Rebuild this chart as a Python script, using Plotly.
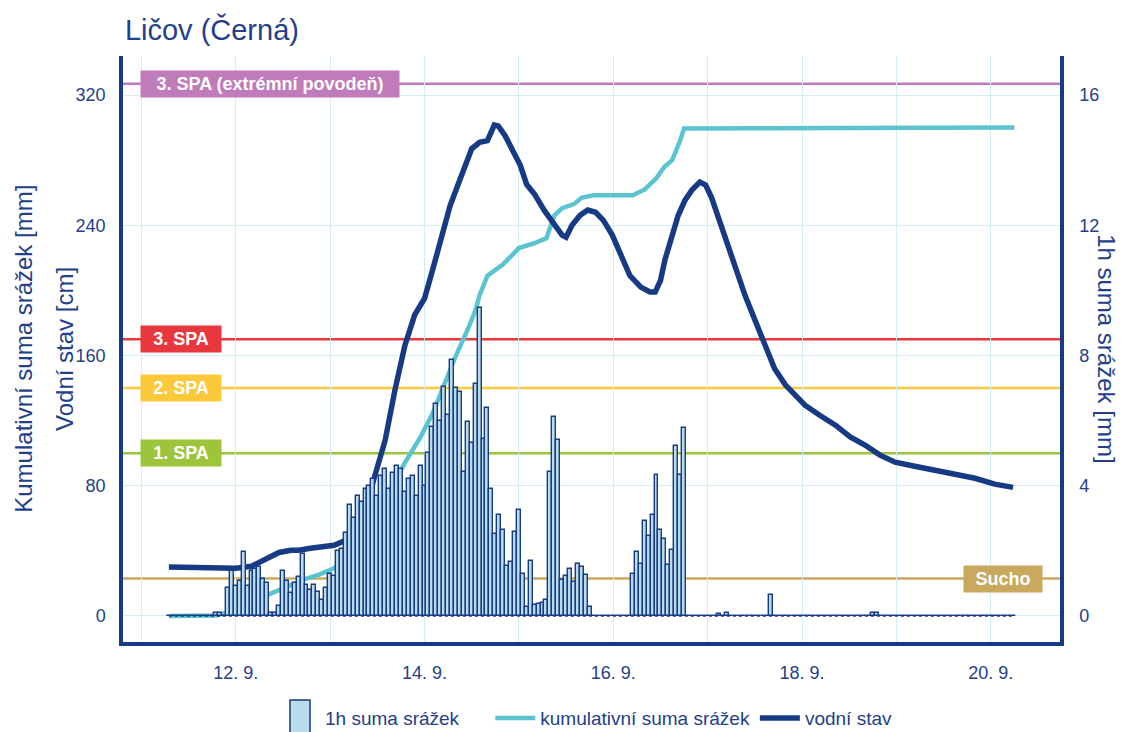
import pandas as pd
import plotly.graph_objects as go

# ---------------- data ----------------
start_1h = "2024-09-11 07:00"
srazky_1h = (
    [0] * 12
    + [0.1, 0.1, 0]
    + [0.87, 1.38, 0.92, 1.08, 1.95, 0.92, 1.38, 1.45, 1.5, 1.13, 1.0]
    + [0.1, 0.1, 0.31, 1.38, 1.08, 0.72, 1.0, 1.2, 1.9]
    + [0.95, 0.8, 0.95, 0.75, 0.5, 0.87, 1.28, 1.23, 2.0, 2.05, 2.56]
    + [3.4, 3.0, 3.7, 3.5, 3.9, 4.0, 4.2, 3.7, 4.3, 4.5, 3.9, 4.4, 4.6, 4.5, 3.8, 4.2, 4.3, 3.7, 4.6, 4.0]
    + [5.0, 5.8, 6.5, 6.0]
    + [7.04, 6.17, 7.86, 6.99, 6.88, 4.43, 5.96, 5.30, 7.12, 9.45, 5.45, 6.39]
    + [3.89, 2.53, 3.09, 2.63, 1.53, 1.66, 2.58, 3.25, 1.30, 0.28, 1.68, 0.33, 0.38, 0.4, 0.48]
    + [4.41, 6.12, 5.4, 1.10, 1.22, 1.43, 1.05, 1.59, 1.49, 1.25, 0.28]
    + [0] * 10
    + [1.28, 1.97, 1.61, 2.92, 2.45, 3.09, 4.32, 2.65, 2.35, 1.56, 2.04, 5.21, 4.32, 5.78]
    + [0] * 8
    + [0.05, 0, 0.1]
    + [0] * 10
    + [0.64]
    + [0] * 25
    + [0.1, 0.08]
    + [0] * 35
)

kum_cas = [
    "2024-09-11 07:00", "2024-09-11 19:00", "2024-09-11 22:00", "2024-09-12 01:00",
    "2024-09-12 04:00", "2024-09-12 08:00", "2024-09-12 11:00", "2024-09-12 15:00",
    "2024-09-12 18:00", "2024-09-12 21:00", "2024-09-13 01:00", "2024-09-13 04:00",
    "2024-09-13 08:00", "2024-09-13 11:00", "2024-09-13 15:00", "2024-09-13 19:00",
    "2024-09-13 23:00", "2024-09-14 02:00", "2024-09-14 05:00", "2024-09-14 08:00",
    "2024-09-14 11:00", "2024-09-14 13:00", "2024-09-14 14:00", "2024-09-14 16:00",
    "2024-09-14 20:00", "2024-09-15 00:00", "2024-09-15 04:00", "2024-09-15 07:00",
    "2024-09-15 09:00", "2024-09-15 11:00", "2024-09-15 14:00", "2024-09-15 16:00",
    "2024-09-15 19:00", "2024-09-16 05:00", "2024-09-16 08:00", "2024-09-16 11:00",
    "2024-09-16 13:00", "2024-09-16 15:00", "2024-09-16 17:00", "2024-09-16 18:00",
    "2024-09-20 06:00",
]
kum_srazky = [
    0, 0.3, 2.1, 5.8,
    9.0, 12.8, 15.8, 20.5,
    23.0, 25.3, 29.3, 35.5,
    47, 58, 76, 94,
    110, 124, 142, 160,
    176, 188, 197, 209,
    216, 226, 229, 232,
    246, 250.5, 253, 257,
    258.4, 258.4, 262, 269,
    276, 280, 292, 299.5,
    300,
]

stav_cas = [
    "2024-09-11 07:00", "2024-09-11 15:00", "2024-09-11 19:00", "2024-09-12 00:00",
    "2024-09-12 04:00", "2024-09-12 07:00", "2024-09-12 11:00", "2024-09-12 14:00",
    "2024-09-12 16:00", "2024-09-12 19:00", "2024-09-12 21:00", "2024-09-13 01:00",
    "2024-09-13 04:00", "2024-09-13 06:00", "2024-09-13 09:00", "2024-09-13 11:00",
    "2024-09-13 14:00", "2024-09-13 16:30", "2024-09-13 19:00", "2024-09-13 21:30",
    "2024-09-14 00:00", "2024-09-14 02:00", "2024-09-14 04:00", "2024-09-14 06:30",
    "2024-09-14 09:00", "2024-09-14 11:00", "2024-09-14 12:00", "2024-09-14 14:00",
    "2024-09-14 16:00", "2024-09-14 17:45", "2024-09-14 18:45", "2024-09-14 20:30",
    "2024-09-14 22:15", "2024-09-15 00:20", "2024-09-15 02:00", "2024-09-15 04:00",
    "2024-09-15 06:30", "2024-09-15 09:00", "2024-09-15 11:00", "2024-09-15 12:00",
    "2024-09-15 13:30", "2024-09-15 15:30", "2024-09-15 17:30", "2024-09-15 19:30",
    "2024-09-15 21:30", "2024-09-15 23:45", "2024-09-16 01:45", "2024-09-16 04:15",
    "2024-09-16 07:00", "2024-09-16 09:20", "2024-09-16 10:40", "2024-09-16 12:00",
    "2024-09-16 13:10", "2024-09-16 15:00", "2024-09-16 16:30", "2024-09-16 18:15",
    "2024-09-16 20:00", "2024-09-16 22:00", "2024-09-16 23:30", "2024-09-17 01:00",
    "2024-09-17 03:00", "2024-09-17 05:00", "2024-09-17 07:30", "2024-09-17 09:30",
    "2024-09-17 12:00", "2024-09-17 14:30", "2024-09-17 17:00", "2024-09-17 19:45",
    "2024-09-17 22:15", "2024-09-18 00:45", "2024-09-18 04:30", "2024-09-18 08:30",
    "2024-09-18 12:15", "2024-09-18 16:00", "2024-09-18 19:50", "2024-09-18 23:40",
    "2024-09-19 04:40", "2024-09-19 09:50", "2024-09-19 14:50", "2024-09-19 20:00",
    "2024-09-20 01:00", "2024-09-20 05:40",
]
vodni_stav = [
    30, 30, 29.3, 29.3,
    30.5, 34, 39, 40.4,
    40.4, 41.6, 42.2, 43.4,
    46.5, 54, 64, 83,
    108, 139, 166, 185,
    195, 212, 231, 252,
    268, 280, 287, 291,
    292, 301.6, 301, 295,
    286, 277, 265, 259,
    249, 240, 234, 232.7,
    240, 246, 249.4, 248,
    243, 234, 222, 209,
    202, 199, 199, 206,
    219, 234, 246, 255.5,
    261.6, 266.5, 264.7, 257,
    243, 228, 212.5, 197,
    182, 166, 152, 142,
    135.6, 129.5, 123.3, 117.2,
    110, 105, 98.8, 94.5,
    92, 89.6, 87, 84.6,
    81, 79,
]

# threshold levels (cm)
limity_nazvy = ["3. SPA (extrémní povodeň)", "3. SPA", "2. SPA", "1. SPA", "Sucho"]
limity_hodnoty = [327, 170, 140, 100, 23]
limity_barvy = ["#c07cba", "#e8383d", "#fcc93a", "#9dc53b", "#c8a95e"]

tick_dny = pd.date_range("2024-09-11", "2024-09-20", freq="D")
tick_popisky = [f"{d.day}. {d.month}." if d.day % 2 == 0 else "" for d in tick_dny]

# ---------------- figure ----------------
NAVY = "#173a84"
TXT = "#24408a"
CYAN = "#5cc3d0"
GRID = "#d5eef5"
BARFILL = "#b8dcea"
FONT = "Liberation Sans, Arial, sans-serif"

cas_1h = pd.date_range(start_1h, periods=len(srazky_1h), freq="h")

fig = go.Figure()

fig.add_trace(go.Scatter(
    x=[cas_1h[0], cas_1h[-1]], y=[0, 0], yaxis="y2", mode="lines",
    line=dict(color=NAVY, width=1.5, dash="dot"), showlegend=False, hoverinfo="skip"))

fig.add_trace(go.Bar(
    x=cas_1h, y=srazky_1h, yaxis="y2", name="1h suma srážek", showlegend=False,
    marker=dict(color=BARFILL, line=dict(color=NAVY, width=1.4)),
    width=3600000))

fig.add_trace(go.Scatter(
    x=pd.to_datetime(kum_cas), y=kum_srazky, mode="lines", name="kumulativní suma srážek",
    line=dict(color=CYAN, width=4.5)))

fig.add_trace(go.Scatter(
    x=pd.to_datetime(stav_cas), y=vodni_stav, mode="lines", name="vodní stav",
    line=dict(color=NAVY, width=5.5)))

shapes = []
annotations = []
for i, (nazev, hodnota, barva) in enumerate(zip(limity_nazvy, limity_hodnoty, limity_barvy)):
    shapes.append(dict(type="line", xref="paper", x0=0, x1=1, yref="y", y0=hodnota, y1=hodnota,
                       line=dict(color=barva, width=2.5), layer="below"))
    if nazev == "Sucho":
        ann_x, anchor, w = 0.982, "right", 76
    elif i == 0:
        ann_x, anchor, w = 0.018, "left", 256
    else:
        ann_x, anchor, w = 0.018, "left", 78
    annotations.append(dict(
        x=ann_x, xref="paper", xanchor=anchor, y=hodnota, yref="y", yanchor="middle",
        text=f"<b>{nazev}</b>", showarrow=False, bgcolor=barva, width=w, height=24,
        borderpad=1, font=dict(family=FONT, size=18, color="white"), align="center"))

# legend key for the 1h bars (tall box, as in the original)
shapes.append(dict(type="rect", xref="paper", yref="paper", x0=0.1782, x1=0.1996,
                   y0=-0.099, y1=-0.18, fillcolor=BARFILL, line=dict(color=NAVY, width=1.5),
                   layer="above"))
annotations.append(dict(text="1h suma srážek", xref="paper", yref="paper", x=0.2134, y=-0.13,
                        xanchor="left", yanchor="middle", showarrow=False,
                        font=dict(family=FONT, size=19, color=TXT)))

annotations += [
    dict(text="Kumulativní suma srážek [mm]", xref="paper", yref="paper", x=-0.107, y=0.5,
         xanchor="center", yanchor="middle", textangle=-90, showarrow=False,
         font=dict(family=FONT, size=24, color=TXT)),
    dict(text="Vodní stav [cm]", xref="paper", yref="paper", x=-0.063, y=0.5,
         xanchor="center", yanchor="middle", textangle=-90, showarrow=False,
         font=dict(family=FONT, size=24, color=TXT)),
    dict(text="1h suma srážek [mm]", xref="paper", yref="paper", x=1.05, y=0.5,
         xanchor="center", yanchor="middle", textangle=90, showarrow=False,
         font=dict(family=FONT, size=24, color=TXT)),
]

fig.update_layout(
    width=1125, height=732,
    margin=dict(l=123, r=65, t=56, b=90, autoexpand=False),
    paper_bgcolor="white", plot_bgcolor="white",
    font=dict(family=FONT, size=18, color=TXT),
    title=dict(text="Ličov (Černá)", x=0.111, xanchor="left", xref="container",
               y=0.959, yanchor="middle", font=dict(family=FONT, size=29, color=TXT)),
    bargap=0,
    showlegend=True,
    legend=dict(orientation="h", x=0.392, xanchor="left",
                y=-0.13, yanchor="middle", font=dict(family=FONT, size=19, color=TXT),
                itemwidth=40, traceorder="normal"),
    xaxis=dict(type="date", range=["2024-09-10 19:20", "2024-09-20 17:36"],
               tickvals=tick_dny, ticktext=tick_popisky, ticks="",
               showgrid=True, gridcolor=GRID, gridwidth=1.2, zeroline=False,
               showline=True, linecolor=NAVY, linewidth=3.5, ticklabelstandoff=12,
               tickfont=dict(size=18, color=TXT)),
    yaxis=dict(range=[-16, 344], tickvals=[0, 80, 160, 240, 320], ticks="",
               showgrid=True, gridcolor=GRID, gridwidth=1.2, zeroline=False,
               showline=True, linecolor=NAVY, linewidth=3.5, ticklabelstandoff=10,
               tickfont=dict(size=18, color=TXT)),
    yaxis2=dict(range=[-0.8, 17.2], tickvals=[0, 4, 8, 12, 16], ticks="",
                overlaying="y", side="right", showgrid=False, zeroline=False,
                showline=True, linecolor=NAVY, linewidth=3.5, ticklabelstandoff=12,
                tickfont=dict(size=18, color=TXT)),
    shapes=shapes,
    annotations=annotations,
)

fig.write_html("out.html", config={"displayModeBar": False},
               post_script="document.body.style.margin='0';document.body.style.overflow='hidden';")
